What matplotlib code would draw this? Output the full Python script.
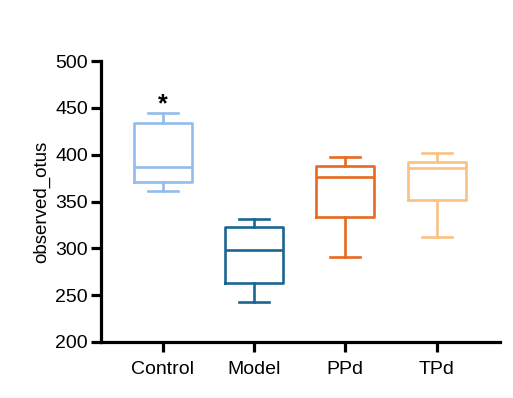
"""Box plot of observed OTUs per group."""

import matplotlib

matplotlib.use("Agg")
import matplotlib.pyplot as plt

plt.rcParams["font.family"] = ["Liberation Sans", "DejaVu Sans"]

GROUPS = ["Control", "Model", "PPd", "TPd"]
WHISKER_LOW = [361, 243, 291, 312]
Q1 = [371, 263, 333, 352]
MEDIAN = [387, 298, 376, 386]
Q3 = [434, 323, 388, 392]
WHISKER_HIGH = [444, 331, 398, 402]
COLORS = ["#93bcec", "#1d6592", "#e8691f", "#f8c283"]
Y_TICKS = [200, 250, 300, 350, 400, 450, 500]


def main() -> None:
    fig = plt.figure(figsize=(5.13, 3.98), dpi=100)
    ax = fig.add_axes([101 / 513, 56 / 398, 399 / 513, 281 / 398])

    stats = []
    for name, lo, q1, med, q3, hi in zip(
        GROUPS, WHISKER_LOW, Q1, MEDIAN, Q3, WHISKER_HIGH
    ):
        stats.append(
            {"label": name, "whislo": lo, "q1": q1, "med": med, "q3": q3,
             "whishi": hi, "fliers": []}
        )

    positions = list(range(len(GROUPS)))
    art = ax.bxp(
        stats,
        positions=positions,
        widths=0.635,
        capwidths=0.33,
        showfliers=False,
        patch_artist=False,
    )
    for i, color in enumerate(COLORS):
        for key in ("boxes", "medians"):
            art[key][i].set_color(color)
            art[key][i].set_linewidth(1.9)
        for key in ("whiskers", "caps"):
            for line in art[key][2 * i:2 * i + 2]:
                line.set_color(color)
                line.set_linewidth(1.9)

    # significance marker above Control
    ax.text(0, 454, "*", ha="center", va="center", fontsize=18,
            fontweight="bold", color="black")

    ax.set_xlim(-0.675, 3.693)
    ax.set_ylim(200, 500)
    ax.set_yticks(Y_TICKS)
    ax.set_xticks(positions)
    ax.set_xticklabels(GROUPS)
    ax.set_ylabel("observed_otus", fontsize=13.5)
    ax.yaxis.set_label_coords(-0.128, 0.5)

    for side in ("top", "right"):
        ax.spines[side].set_visible(False)
    for side in ("left", "bottom"):
        ax.spines[side].set_linewidth(2.3)
    ax.tick_params(axis="both", width=2.3, length=7.5, labelsize=14,
                   pad=2, colors="black")
    ax.tick_params(axis="x", pad=6)

    fig.savefig("out.png", dpi=100)
    plt.close(fig)


if __name__ == "__main__":
    main()
